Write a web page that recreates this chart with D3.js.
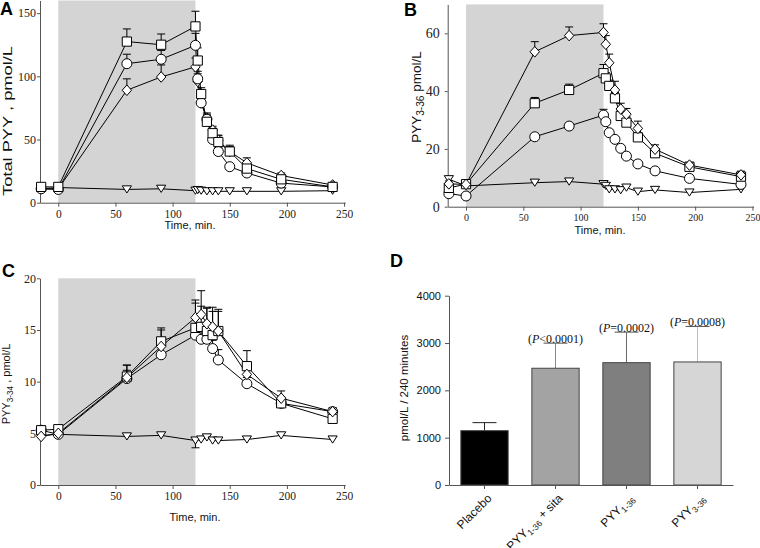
<!DOCTYPE html>
<html><head><meta charset="utf-8">
<script src="https://cdn.jsdelivr.net/npm/d3@7"></script>
<style>body{margin:0;background:#fff}svg{display:block}</style>
</head><body>
<script>
// ---------------- data ----------------
const timesAB = [-15,0,60,90,120,122,125,130,135,140,150,165,195,240];
const timesC  = [-15,0,60,90,120,125,130,135,140,165,195,240];
const xTickValues = [0,50,100,150,200,250];
const infusionWindow = [0,120];

// Panel A: Total PYY (pmol/L)
const totalSquare    = [12.5,12.5,127.5,125,139.5,112.5,86,64,55,48,40.5,27,18.5,12.5];
const totalSquareErr = [1,1,10,8.5,12,10,5,5,4,5,5,4,2,1.5];
const totalCircle    = [11,10.5,110,113.5,124.5,98,79,66,50,40.5,28.5,23.5,15.5,12.5];
const totalCircleErr = [1,1,7.5,7,9.5,6,4,4,4,3,2,2,1.5,1];
const totalDiamond   = [11,11,89,99.5,107.5,96,79,67,57.5,49.5,40.5,31.5,21.5,14];
const totalDiamondErr= [1,1,9,9.5,7,6,4,4,3,4,4,4,2,1];
const totalTriangle  = [11,12,10.5,11,9.5,10,9.5,9,9,9,9,9,9,9.5];
const totalTriangleErr=[0,0,0,0,0,0,0,0,0,0,0,0,0,0];
const yTicksA = [0,50,100,150];

// Panel B: PYY3-36 (pmol/L)
const b336Diamond    = [7.9,7.7,53.6,59.2,60.3,56.2,49.8,40.4,33.8,32,27.1,19.9,14.4,11];
const b336DiamondErr = [1,1,3.5,3,3,3,3,3,2,2,2.5,1.5,1,1.3];
const b336Square     = [6.5,7.8,35.8,40.4,46.2,44.4,41.8,37.5,31.4,29.1,24,18.5,13.8,10.4];
const b336SquareErr  = [1,1,2,2,3,2,2,2,2,2,1.5,1,1,1];
const b336Circle     = [4.5,3.7,24.2,27.9,31.7,29.4,25.6,23.3,20.2,17.5,14.8,12.4,9.8,7.7];
const b336CircleErr  = [1,0.5,1,1,2,1,1,1,1,1,0.5,0.5,0.5,0.5];
const b336Triangle   = [9.5,7.2,8.3,8.7,7.8,7.2,6,6,5.7,6.6,5.2,5.8,4.9,6];
const b336TriangleErr= [0,0,0,0,0,0,0,0,0,0,0,0,0,0];
const yTicksB = [0,20,40,60];

// Panel C: PYY3-34 (pmol/L)
const c334Square     = [5.3,5.4,10.5,13.9,15.2,15.3,14.9,14.5,14.9,11.5,7.9,6.4];
const c334SquareErr  = [0.3,0.3,1.1,1.3,2.7,2,2.3,2.7,2.1,1.5,0.6,0.4];
const c334Circle     = [5.3,4.9,10.3,12.6,14.5,14.1,14.1,13.2,12.1,9.8,7.9,7.1];
const c334CircleErr  = [0.2,0.2,0.8,0.8,1,0.8,0.8,0.8,1,0.6,0.4,0.3];
const c334Diamond    = [4.7,5.0,10.4,13.4,16.2,16.5,15.6,15.3,14.9,10.7,8.4,7.1];
const c334DiamondErr = [0.3,0.3,1.2,1.6,1.4,2.3,1.5,1.5,1.9,1.2,0.7,0.4];
const c334Triangle   = [4.8,4.9,4.7,4.8,4.3,4.4,4.6,4.3,4.3,4.4,4.8,4.4];
const c334TriangleErr= [0,0,0,0,-0.7,0,0,0,0,0,0,0];
const yTicksC = [0,5,10,15,20];

// Panel D: AUC (pmol/L / 240 minutes)
const barCategories = ["Placebo","PYY1-36 + sita","PYY1-36","PYY3-36"];
const barValues  = [1148,2467,2585,2600];
const barErrors  = [170,530,645,750];
const barPLabels = ["","<0.0001","=0.0002","=0.0008"];
const barColors  = ["#000000","#a3a3a3","#7f7f7f","#d6d6d6"];
const barErrColors = ["#222222","#8a8a8a","#6a6a6a","#bdbdbd"];
const yTicksD = [0,1000,2000,3000,4000];

// ---------------- drawing ----------------
const svg = d3.select("body").append("svg").attr("width",760).attr("height",548);
const AX = "#555";
const SERIF = "'Liberation Serif','Times New Roman',serif";
const SANS = "'Liberation Sans',Arial,sans-serif";

function marker(type, cx, cy){
  if(type==="square"){const s=4.6;return `M${cx-s},${cy-s}h${2*s}v${2*s}h${-2*s}Z`;}
  if(type==="circle"){const r=5;return `M${cx-r},${cy}a${r},${r} 0 1,0 ${2*r},0a${r},${r} 0 1,0 ${-2*r},0Z`;}
  if(type==="diamond"){const w=4.7,h=5.3;return `M${cx},${cy-h}L${cx+w},${cy}L${cx},${cy+h}L${cx-w},${cy}Z`;}
  const w=4.6,h=3.6; return `M${cx-w},${cy-h}L${cx+w},${cy-h}L${cx},${cy+h}Z`;
}

function timePanel(o){
  const g = svg.append("g");
  const x = d3.scaleLinear().domain([-16,251]).range(o.xr);
  const y = d3.scaleLinear().domain([0,o.yMax]).range(o.yr);
  g.append("rect").attr("x",x(infusionWindow[0])).attr("y",y(o.yMax))
   .attr("width",x(infusionWindow[1])-x(infusionWindow[0])).attr("height",y(0)-y(o.yMax))
   .attr("fill","#d4d4d4");
  const xa = g.append("g").attr("transform",`translate(0,${o.yr[0]})`)
    .call(d3.axisBottom(x).tickValues(xTickValues).tickSize(4).tickSizeOuter(0).tickPadding(3));
  xa.attr("font-family",null).attr("font-size",null);
  xa.selectAll("text").style("font-family",SERIF).style("font-size",o.xfs+"px").attr("fill","#222");
  const ya = g.append("g").attr("transform",`translate(${o.xr[0]},0)`)
    .call(d3.axisLeft(y).tickValues(o.yTicks).tickSize(3).tickSizeOuter(0).tickPadding(o.ypad));
  ya.attr("font-family",null).attr("font-size",null);
  ya.selectAll("text").style("font-family",SERIF).style("font-size",o.yfs+"px").attr("fill","#222");
  [xa,ya].forEach(a=>{a.select(".domain").attr("stroke",AX);a.selectAll(".tick line").attr("stroke",AX);});

  const line = d3.line().x(d=>x(d[0])).y(d=>y(d[1]));
  o.series.forEach(s=>{
    const pts = o.times.map((t,i)=>[t,s.v[i],s.e[i]]);
    g.append("path").attr("d",line(pts)).attr("fill","none").attr("stroke","#000").attr("stroke-width",1);
  });
  o.series.forEach(s=>{
    const pts = o.times.map((t,i)=>[t,s.v[i],s.e[i]]);
    pts.filter(p=>p[2]!==0).forEach(p=>{
      const x0=x(p[0]), y0=y(p[1]), y1=y(p[1]+p[2]);
      g.append("line").attr("x1",x0).attr("x2",x0).attr("y1",y0).attr("y2",y1).attr("stroke","#000");
      g.append("line").attr("x1",x0-4).attr("x2",x0+4).attr("y1",y1).attr("y2",y1).attr("stroke","#000");
    });
  });
  o.series.forEach(s=>{
    o.times.forEach((t,i)=>{
      g.append("path").attr("d",marker(s.type,x(t),y(s.v[i])))
       .attr("fill","#fff").attr("stroke","#000").attr("stroke-width",1);
    });
  });
  // x title
  g.append("text").attr("x",o.xtitle[0]).attr("y",o.xtitle[1]).attr("text-anchor","middle")
   .style("font-family",SANS).style("font-size","11px").attr("fill","#111").text("Time, min.");
  // y title
  const yt = g.append("text").attr("transform",`translate(${o.ytitle[0]},${o.ytitle[1]}) rotate(-90)`)
    .attr("text-anchor","middle").style("font-family",SANS).style("font-size",o.ytfs+"px").attr("fill","#111");
  if(o.ytlen) yt.attr("textLength",o.ytlen).attr("lengthAdjust","spacingAndGlyphs");
  o.ytitleParts.forEach(p=>{
    const t = yt.append("tspan").text(p.t);
    if(p.sub){t.style("font-size",(o.ytfs*0.75)+"px").attr("dy",3);} 
    if(p.back){t.attr("dy",-3);}
  });
  // panel letter
  svg.append("text").attr("x",o.letter[0]).attr("y",o.letter[1]).style("font-family",SANS)
   .attr("font-weight","bold").style("font-size","18px").attr("fill","#000").text(o.letter[2]);
}

timePanel({xr:[40,345.2], yr:[202.7,0.5], yMax:160, yTicks:yTicksA, xfs:11.5, yfs:12, ypad:1,
  times:timesAB,
  series:[
    {type:"triangle",v:totalTriangle,e:totalTriangleErr},
    {type:"diamond",v:totalDiamond,e:totalDiamondErr},
    {type:"circle",v:totalCircle,e:totalCircleErr},
    {type:"square",v:totalSquare,e:totalSquareErr}],
  xtitle:[190,229], ytitle:[12,121], ytfs:12.5, ytlen:150,
  ytitleParts:[{t:"Total PYY  , pmol/L"}], letter:[0,15,"A"]});

timePanel({xr:[447.7,753.6], yr:[206.7,4.4], yMax:70, yTicks:yTicksB, xfs:10, yfs:14, ypad:5,
  times:timesAB,
  series:[
    {type:"triangle",v:b336Triangle,e:b336TriangleErr},
    {type:"circle",v:b336Circle,e:b336CircleErr},
    {type:"square",v:b336Square,e:b336SquareErr},
    {type:"diamond",v:b336Diamond,e:b336DiamondErr}],
  xtitle:[600,234], ytitle:[421,97], ytfs:13.5,
  ytitleParts:[{t:"PYY"},{t:"3-36",sub:true},{t:" pmol/L",back:true}], letter:[404,16,"B"]});

timePanel({xr:[40,345.2], yr:[485,278.3], yMax:20, yTicks:yTicksC, xfs:11.5, yfs:12, ypad:1,
  times:timesC,
  series:[
    {type:"triangle",v:c334Triangle,e:c334TriangleErr},
    {type:"circle",v:c334Circle,e:c334CircleErr},
    {type:"square",v:c334Square,e:c334SquareErr},
    {type:"diamond",v:c334Diamond,e:c334DiamondErr}],
  xtitle:[195,521], ytitle:[10,384], ytfs:11,
  ytitleParts:[{t:"PYY"},{t:"3-34",sub:true},{t:" , pmol/L",back:true}], letter:[2,277,"C"]});

// ---- Panel D ----
(function(){
  const g = svg.append("g");
  const x = d3.scaleBand().domain(barCategories).range([449,733]).paddingInner(0.334).paddingOuter(0.167);
  const y = d3.scaleLinear().domain([0,4000]).range([485,295.7]);
  barCategories.forEach((c,i)=>{
    const cx = x(c)+x.bandwidth()/2, top=y(barValues[i]+barErrors[i]);
    g.append("line").attr("x1",cx).attr("x2",cx).attr("y1",y(barValues[i])).attr("y2",top).attr("stroke",barErrColors[i]);
    g.append("line").attr("x1",cx-12).attr("x2",cx+12).attr("y1",top).attr("y2",top).attr("stroke",i===0?"#222":"#555");
  });
  g.selectAll("rect.bar").data(barCategories).join("rect").attr("class","bar")
   .attr("x",d=>x(d)).attr("width",x.bandwidth())
   .attr("y",(d,i)=>y(barValues[i])).attr("height",(d,i)=>y(0)-y(barValues[i]))
   .attr("fill",(d,i)=>barColors[i]).attr("stroke","#444").attr("stroke-width",1);
  const ya = g.append("g").attr("transform","translate(449,0)")
    .call(d3.axisLeft(y).tickValues(yTicksD).tickSize(4).tickSizeOuter(0).tickPadding(4).tickFormat(d3.format("d")));
  ya.selectAll("text").style("font-family",SANS).style("font-size","11px").attr("fill","#111");
  const xa = g.append("g").attr("transform","translate(0,485)")
    .call(d3.axisBottom(x).tickSize(4).tickSizeOuter(0).tickFormat(""));
  [xa,ya].forEach(a=>{a.select(".domain").attr("stroke",AX);a.selectAll(".tick line").attr("stroke",AX);});
  // rotated category labels with subscripts
  barCategories.forEach((c,i)=>{
    const cx = x(c)+x.bandwidth()/2;
    const t = g.append("text").attr("transform",`translate(${cx+8},${499}) rotate(-45)`)
      .attr("text-anchor","end").style("font-family",SANS).style("font-size","12px").attr("fill","#111");
    const m = c.match(/^PYY(\d-\d+)(.*)$/);
    if(m){
      t.append("tspan").text("PYY");
      t.append("tspan").style("font-size","8.5px").attr("dy",3).text(m[1]);
      t.append("tspan").attr("dy",-3).text(m[2]);
    } else t.text(c);
  });
  // P labels
  barCategories.forEach((c,i)=>{
    if(!barPLabels[i]) return;
    const cx = x(c)+x.bandwidth()/2, top=y(barValues[i]+barErrors[i]);
    const t = g.append("text").attr("x",cx).attr("y",top).attr("text-anchor","middle")
      .style("font-family",SERIF).style("font-size","12px").attr("fill","#111");
    t.append("tspan").text("(");
    t.append("tspan").style("font-style","italic").text("P");
    t.append("tspan").text(barPLabels[i]+")");
  });
  // y title
  g.append("text").attr("transform","translate(408,388) rotate(-90)").attr("text-anchor","middle")
   .style("font-family",SANS).style("font-size","11.5px").attr("fill","#111").text("pmol/L / 240 minutes");
  svg.append("text").attr("x",390).attr("y",267).style("font-family",SANS)
   .attr("font-weight","bold").style("font-size","18px").attr("fill","#000").text("D");
})();
</script>
</body></html>
